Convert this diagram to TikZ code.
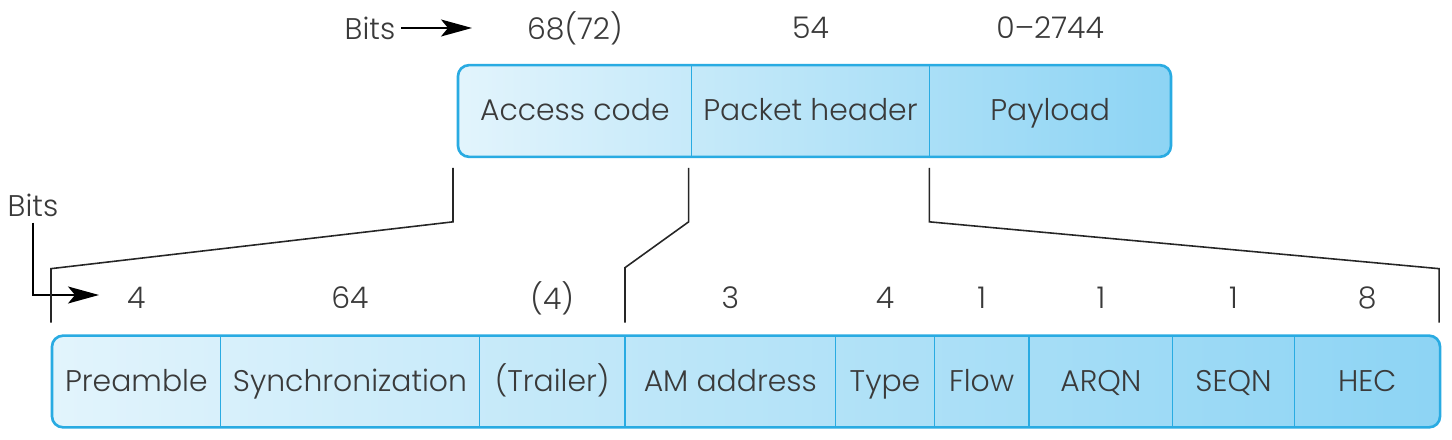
\documentclass[tikz,border=0pt]{standalone}
\usepackage{fontspec}
\setmainfont{Poppins}[UprightFont=* Light]
\usetikzlibrary{positioning,calc,arrows.meta,backgrounds}

\definecolor{fieldlight}{HTML}{E2F4FC}
\definecolor{fielddark}{HTML}{8DD4F4}
\definecolor{fieldline}{HTML}{29ABE2}
\definecolor{inkgray}{HTML}{3A3A3A}

\tikzset{
  field/.style={minimum height=1.82cm, inner sep=0pt, text=inkgray,
    text height=12.5pt, text depth=1.5pt, font=\fontsize{17}{20}\selectfont},
  bits/.style={text=inkgray, font=\fontsize{17}{20}\selectfont},
  frame/.style={fieldline, line width=1.5pt, rounded corners=0.22cm},
  divider/.style={fieldline, line width=0.7pt},
  bracket/.style={line width=0.9pt, black!85},
  pointer/.style={line width=0.8pt, -{Stealth[length=0.62cm, width=0.34cm, inset=0.14cm]}},
}

\begin{document}
\begin{tikzpicture}[x=0.02cm, y=0.02cm]
  \useasboundingbox (0,0) rectangle (1452,439);
  \coordinate (toprow) at (0,411);
  \coordinate (lowrow) at (0,141);

  % packet
  \node[field, minimum width=4.66cm, anchor=west] (acc) at (458,328) {Access code};
  \node[field, minimum width=4.74cm, right=0pt of acc] (hdr) {Packet header};
  \node[field, minimum width=4.82cm, right=0pt of hdr] (pay) {Payload};

  % access code and header fields
  \node[field, minimum width=3.36cm, anchor=west] (pre) at (52,57.5) {Preamble};
  \node[field, minimum width=5.16cm, right=0pt of pre] (syn) {Synchronization};
  \node[field, minimum width=2.90cm, right=0pt of syn] (tra) {(Trailer)};
  \node[field, minimum width=4.20cm, right=0pt of tra] (am) {AM address};
  \node[field, minimum width=1.96cm, right=0pt of am] (typ) {Type};
  \node[field, minimum width=1.88cm, right=0pt of typ] (flo) {Flow};
  \node[field, minimum width=2.86cm, right=0pt of flo] (arq) {ARQN};
  \node[field, minimum width=2.42cm, right=0pt of arq] (seq) {SEQN};
  \node[field, minimum width=2.90cm, right=0pt of seq] (hec) {HEC};

  \begin{scope}[on background layer]
    \shade[left color=fieldlight, right color=fielddark, rounded corners=0.22cm]
      (acc.south west) rectangle (pay.north east);
    \shade[left color=fieldlight, right color=fielddark, rounded corners=0.22cm]
      (pre.south west) rectangle (hec.north east);
  \end{scope}
  \draw[frame] (acc.south west) rectangle (pay.north east);
  \draw[frame] (pre.south west) rectangle (hec.north east);
  \foreach \f in {acc,hdr,pre,syn,tra,am,typ,flo,arq,seq}
    \draw[divider] (\f.north east) -- (\f.south east);

  % bit counts
  \node[bits] (nacc) at (acc |- toprow) {68(72)};
  \node[bits] (nhdr) at (hdr |- toprow) {54};
  \node[bits] (npay) at (pay |- toprow) {0--2744};
  \node[bits] (npre) at (pre |- lowrow) {4};
  \node[bits] (nsyn) at (syn |- lowrow) {64};
  \node[bits] (ntra) at (tra |- lowrow) {(4)};
  \node[bits] (nam) at (am |- lowrow) {3};
  \node[bits] (ntyp) at (typ |- lowrow) {4};
  \node[bits] (nflo) at (flo |- lowrow) {1};
  \node[bits] (narq) at (arq |- lowrow) {1};
  \node[bits] (nseq) at (seq |- lowrow) {1};
  \node[bits] (nhec) at (hec |- lowrow) {8};

  % bits pointers
  \node[bits] (topbits) at (370,411) {Bits};
  \coordinate (toptip) at (472,411);
  \draw[pointer] (topbits) -- (toptip);
  \node[bits] (lowbits) at (33,234) {Bits};
  \coordinate (lowtip) at (99,144);
  \draw[pointer] (lowbits.south) -- (lowbits.south |- lowtip) -- (lowtip);

  % expansion brackets
  \draw[bracket] ($(acc.south west)+(-5,-11)$) -- ++(0,-54)
    -- ($(pre.north west)+(-1,67)$) -- ++(0,-54);
  \draw[bracket] ($(acc.south east)+(-3,-11)$) -- ++(0,-54)
    -- ($(tra.north east)+(0,68)$) -- ++(0,-55);
  \draw[bracket] ($(hdr.south east)+(0,-11)$) -- ++(0,-54)
    -- ($(hec.north east)+(-1,67)$) -- ++(0,-54);
\end{tikzpicture}
\end{document}
